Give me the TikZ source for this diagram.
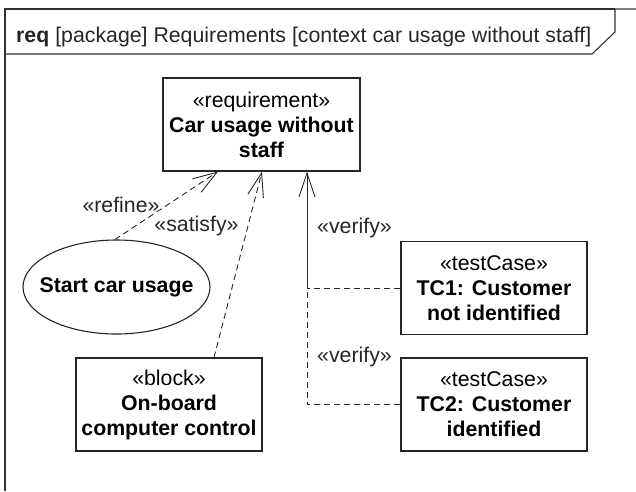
\documentclass[tikz,border=0pt]{standalone}
\usepackage{fontspec}
\setmainfont{Liberation Sans}
\usetikzlibrary{arrows.meta,positioning,shapes.geometric}
\tikzset{
  elem/.style   ={draw=black!85,line width=1.1pt,align=center,inner sep=2pt,
                  font=\fontsize{21.3}{25}\selectfont},
  reqbox/.style ={elem,minimum width=197pt,minimum height=93pt},
  blkbox/.style ={elem,minimum width=186pt,minimum height=93pt},
  usecase/.style={elem,ellipse,inner xsep=-12pt,minimum width=187pt,minimum height=94pt},
  opentip/.style={-{Straight Barb[length=24pt,width=16pt,line width=0.9pt]}},
  dep/.style    ={draw=black!85,line width=0.9pt,dash pattern=on 6pt off 4pt,opentip},
  trace/.style  ={draw=black!85,line width=0.9pt,dash pattern=on 6pt off 4pt},
  trunk/.style  ={draw=black!85,line width=0.9pt,opentip},
  stlabel/.style={font=\fontsize{21.3}{25}\selectfont,text=black!85,inner sep=0pt},
  frame/.style  ={draw=black!80,line width=1.1pt},
}
\begin{document}
\begin{tikzpicture}[x=1pt,y=-1pt]
  \useasboundingbox (0,0) rectangle (636,491);
  % frame with its name tab
  \draw[frame] (615,9) -- (5,9) -- (5,491);
  \draw[frame,draw=black!50] (615,9) -- (636,9);
  \draw[frame] (615,9) -- (615,32) -- (592,54) -- (5,54);
  \node[stlabel,anchor=base west] (title) at (16,42)
    {\textbf{req} [package] Requirements [context car usage without staff]};

  \node[reqbox] (req) at (261.5,124.5)
    {«requirement»\\\textbf{Car usage without}\\\textbf{staff}};
  \node[usecase] (uc) at (116.5,287) {\textbf{Start car usage}};
  \node[blkbox] (blk) at (169,404.5)
    {«block»\\\textbf{On-board}\\\textbf{computer control}};
  \node[blkbox] (tc1) at (494,288)
    {«testCase»\\\textbf{TC1: Customer}\\\textbf{not identified}};
  \node[blkbox] (tc2) at (494,404.5)
    {«testCase»\\\textbf{TC2: Customer}\\\textbf{identified}};

  % dependencies
  \draw[dep] ([xshift=-1.5pt]uc.north) -- ([xshift=-43.5pt]req.south);
  \draw[dep] ([xshift=45pt]blk.north) -- ([xshift=0.5pt]req.south);
  % the two verify lines join before reaching the requirement
  \coordinate (vjoin) at ([xshift=45.5pt]req.south |- tc1.west);
  \draw[trace] (tc2.west) -| (vjoin);
  \draw[trace] (tc1.west) -- (vjoin);
  \draw[trunk] (vjoin) -- ([xshift=45.5pt]req.south);

  \node[stlabel] (refine)  at (121,205) {«refine»};
  \node[stlabel] (satisfy) at (196.5,226) {«satisfy»};
  \node[stlabel] (verify1) at (354.5,228) {«verify»};
  \node[stlabel] (verify2) at (354.5,357) {«verify»};
\end{tikzpicture}
\end{document}
